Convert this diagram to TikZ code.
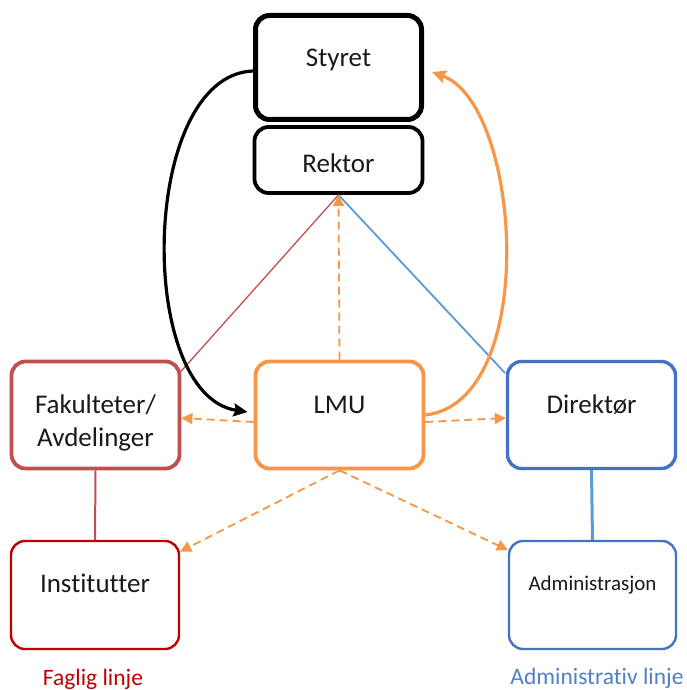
\documentclass[tikz,border=0pt]{standalone}
\usepackage{fontspec}
\setmainfont[Ligatures=CommonOff]{Carlito}
\usetikzlibrary{arrows.meta}

\definecolor{fakred}{HTML}{C0504D}
\definecolor{instred}{HTML}{C00000}
\definecolor{lmuorange}{HTML}{F79646}
\definecolor{dirblue}{HTML}{4472C4}
\definecolor{lineblue}{HTML}{5B9BD5}
\definecolor{labelblue}{HTML}{4F7FC6}
\definecolor{textgray}{HTML}{1A1A1A}

\tikzset{
  orgbox/.style={draw, fill=white, rounded corners=14pt, inner sep=0pt,
    minimum width=168pt, minimum height=107pt},
  boxtext/.style={anchor=base, inner sep=0pt, text=textgray,
    font=\fontsize{27}{32}\selectfont},
  smalltext/.style={anchor=base, inner sep=0pt, text=textgray,
    font=\fontsize{21}{25}\selectfont},
  linelabel/.style={anchor=base, inner sep=0pt,
    font=\fontsize{23.5}{28}\selectfont},
  infoarrow/.style={draw=lmuorange, line width=1.8pt,
    dash pattern=on 8pt off 5pt,
    -{Triangle[length=11pt,width=11pt,fill=lmuorange]}},
  curvearrow/.style={line width=3.2pt,
    -{Stealth[length=14pt,width=13pt,inset=2pt]}}
}

\begin{document}
\begin{tikzpicture}[x=1pt,y=-1pt]
\useasboundingbox (0,0) rectangle (686,690);

% governance
\node[orgbox, line width=5pt, minimum width=166pt, minimum height=104pt]
  (styret) at (338.5,67.5) {};
\node[orgbox, line width=3.8pt, minimum height=66pt] (rektor) at (338.5,160) {};

% lines to the two branches (drawn first, boxes are redrawn on top)
\draw[fakred, line width=1.3pt] (rektor.south) -- (179.5,373) coordinate (fakin);
\draw[lineblue, line width=1.8pt] (rektor.south) -- (505,373) coordinate (dirin);

% middle row
\node[orgbox, draw=fakred, line width=3.8pt] (fak) at (95.5,415) {};
\node[orgbox, draw=lmuorange, line width=3.8pt] (lmu) at (339.5,415) {};
\node[orgbox, draw=dirblue, line width=3.4pt] (dir) at (591.5,415) {};

% bottom row
\node[orgbox, draw=instred, line width=2.4pt, minimum height=108pt] (inst) at (95,595) {};
\node[orgbox, draw=dirblue, line width=2.4pt, minimum width=167pt, minimum height=108pt]
  (adm) at (592.5,595) {};

% vertical links in each line
\draw[fakred, line width=2pt] (fak.south) -- (inst.north);
\draw[lineblue, line width=3pt] (dir.south) -- (adm.north);

% information arrows from LMU
\draw[infoarrow] (lmu.north) -- (rektor.south);
\draw[infoarrow] ([yshift=-7pt]lmu.west) -- ([yshift=-3pt]fak.east);
\draw[infoarrow] ([yshift=-7pt]lmu.east) -- ([yshift=-3pt]dir.east -| dir.west);
\draw[infoarrow] (lmu.south) -- (inst.27);
\draw[infoarrow] (lmu.south) -- (adm.152);

% curved arrows between board and LMU
\draw[curvearrow, black] ([yshift=-3.5pt]styret.west)
  .. controls (140,75) and (135,395) .. ([yshift=3pt, xshift=-6pt]lmu.west);
\draw[curvearrow, lmuorange] ([yshift=0pt]lmu.east)
  .. controls (540,402) and (522,105) .. ([yshift=-4.5pt, xshift=8pt]styret.east);

% texts
\node[boxtext] (t-styret) at (338.5,67) {Styret};
\node[boxtext] (t-rektor) at (338.5,172) {Rektor};
\node[boxtext] (t-fak1) at (95.5,413) {Fakulteter/};
\node[boxtext] (t-fak2) at (95.5,446) {Avdelinger};
\node[boxtext] (t-lmu) at (339.5,413) {LMU};
\node[boxtext] (t-dir) at (591.5,413) {Direktør};
\node[boxtext] (t-inst) at (95,592) {Institutter};
\node[smalltext] (t-adm) at (592.5,590) {Administrasjon};

\node[linelabel, text=instred] (l-faglig) at (93,685) {Faglig linje};
\node[linelabel, text=labelblue] (l-adm) at (597,684) {Administrativ linje};
\end{tikzpicture}
\end{document}
